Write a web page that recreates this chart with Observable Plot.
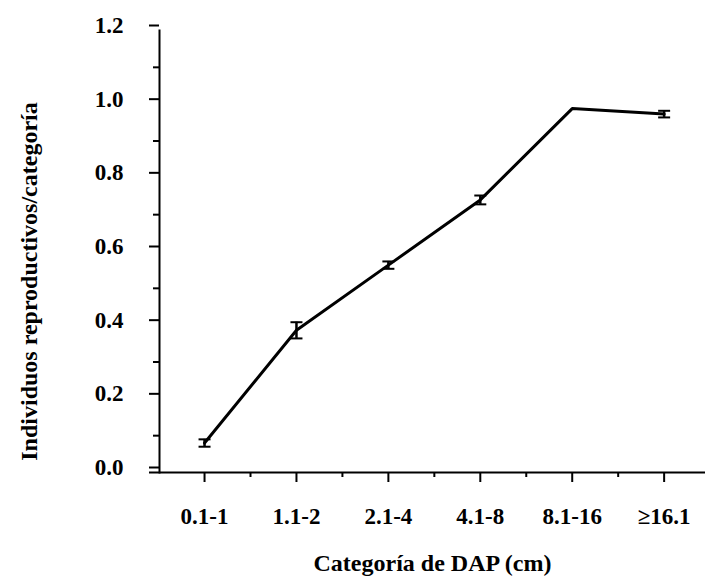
<!DOCTYPE html>
<html>
<head>
<meta charset="utf-8">
<script src="https://cdn.jsdelivr.net/npm/d3@7"></script>
<script src="https://cdn.jsdelivr.net/npm/@observablehq/plot@0.6"></script>
<style>
  html, body { margin: 0; padding: 0; background: #fff; }
  #chart { width: 708px; height: 576px; }
</style>
</head>
<body>
<div id="chart"></div>
<script>
const categories = ["0.1-1", "1.1-2", "2.1-4", "4.1-8", "8.1-16", "≥16.1"];
const values = [0.080, 0.386, 0.563, 0.740, 0.988, 0.973];
const errors = [0.010, 0.022, 0.010, 0.012, null, 0.009];
const yTicks = [0, 0.2, 0.4, 0.6, 0.8, 1.0, 1.2];
const yMinorTicks = [0.1, 0.3, 0.5, 0.7, 0.9, 1.1];
const xMinorTicks = [0.5, 1.5, 2.5, 3.5, 4.5];
const xTitle = "Categoría de DAP (cm)";
const yTitle = "Individuos reproductivos/categoría";

const data = categories.map((c, i) => ({i, cat: c, v: values[i], e: errors[i]}));
const eb = data.filter(d => d.e != null);

const capSymbol = {
  draw(ctx, size) {
    const w = Math.sqrt(size / Math.PI);
    ctx.moveTo(-w, 0);
    ctx.lineTo(w, 0);
  }
};

const chart = Plot.plot({
  width: 708,
  height: 576,
  marginLeft: 159,
  marginRight: 3,
  marginTop: 30,
  marginBottom: 104,
  style: {fontFamily: "'Liberation Serif', 'Times New Roman', serif", fontWeight: "bold", fontSize: "23px", color: "black", background: "white"},
  x: {domain: [-0.49, 5.45], axis: null},
  y: {domain: [0, 1.2], axis: null},
  marks: [
    Plot.frame({anchor: "left", stroke: "black", strokeWidth: 2}),
    Plot.ruleY([0], {stroke: "black", strokeWidth: 2, insetLeft: -10}),
    Plot.axisY({ticks: yTicks, tickSize: 10, tickPadding: 26, tickFormat: d => d.toFixed(1), strokeWidth: 2, dy: -5, fontSize: 23, label: null}),
    Plot.axisY({ticks: yMinorTicks, tickSize: 6, tickFormat: () => "", strokeWidth: 2, label: null}),
    Plot.axisX({ticks: d3.range(categories.length), tickSize: 10, tickPadding: 25, tickFormat: i => categories[i], strokeWidth: 2, fontSize: 23, label: null}),
    Plot.axisX({ticks: xMinorTicks, tickSize: 5, tickFormat: () => "", strokeWidth: 2, label: null}),
    Plot.line(data, {x: "i", y: "v", stroke: "black", strokeWidth: 3}),
    Plot.ruleX(eb, {x: "i", y1: d => d.v - d.e, y2: d => d.v + d.e, stroke: "black", strokeWidth: 2.5}),
    Plot.dot(eb, {x: "i", y: d => d.v + d.e, symbol: capSymbol, r: 6, stroke: "black", strokeWidth: 2, fill: "none"}),
    Plot.dot(eb, {x: "i", y: d => d.v - d.e, symbol: capSymbol, r: 6, stroke: "black", strokeWidth: 2, fill: "none"}),
    Plot.text([xTitle], {frameAnchor: "bottom", textAnchor: "middle", dy: 91, lineAnchor: "middle", fontSize: 24, fontWeight: "bold"}),
    Plot.text([yTitle], {frameAnchor: "left", textAnchor: "middle", rotate: -90, dx: -130, dy: 30, lineAnchor: "middle", fontSize: 24, fontWeight: "bold"})
  ]
});
document.getElementById("chart").appendChild(chart);
</script>
</body>
</html>
